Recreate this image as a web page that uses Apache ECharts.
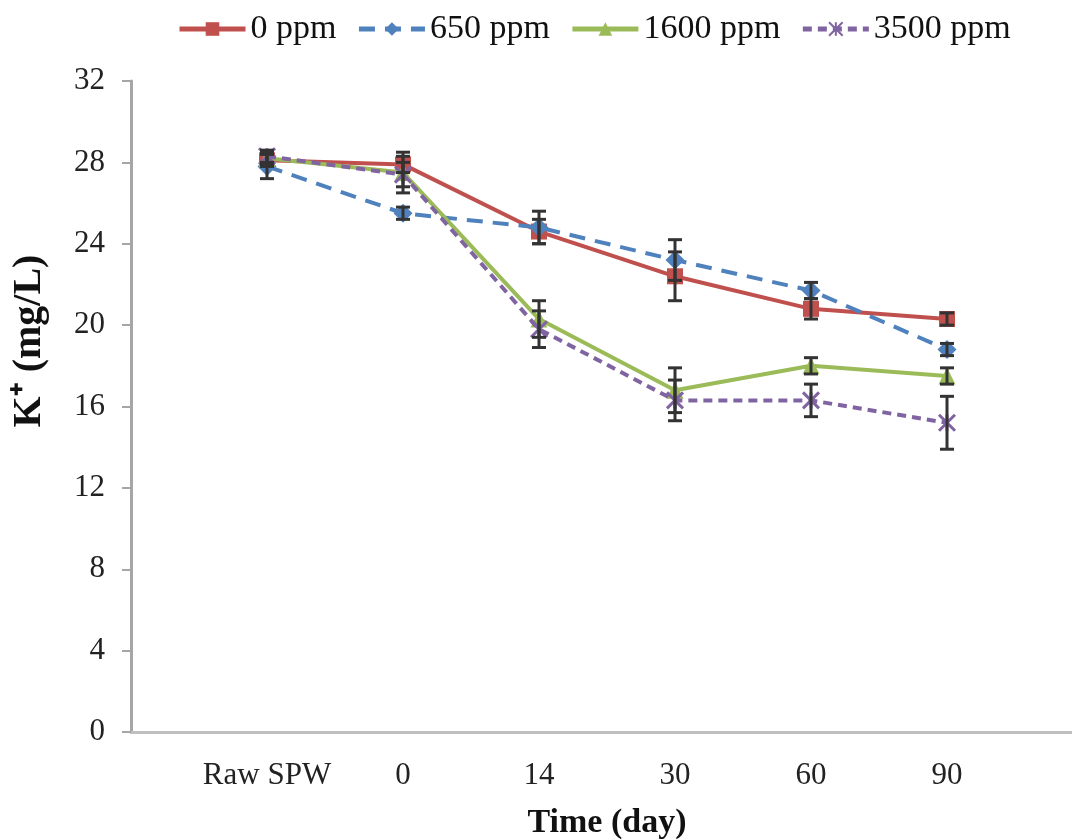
<!DOCTYPE html>
<html>
<head>
<meta charset="utf-8">
<script src="https://cdn.jsdelivr.net/npm/echarts@6/dist/echarts.min.js"></script>
<style>
html,body{margin:0;padding:0;background:#fff;}
#chart{width:1072px;height:840px;}
</style>
</head>
<body>
<div id="chart"></div>
<script>
// Categories (empty slots at both ends keep the axis spacing of the original)
const categories = ['', 'Raw SPW', '0', '14', '30', '60', '90', ''];
const timePoints = ['Raw SPW', '0', '14', '30', '60', '90'];
const yTicks = [0, 4, 8, 12, 16, 20, 24, 28, 32];

// Series values (K+ mg/L)
const ppm0    = [28.1, 27.9, 24.6, 22.4, 20.8, 20.3];
const ppm650  = [27.8, 25.5, 24.8, 23.2, 21.7, 18.8];
const ppm1600 = [28.2, 27.5, 20.3, 16.8, 18.0, 17.5];
const ppm3500 = [28.3, 27.4, 19.8, 16.3, 16.3, 15.2];

// Error (± SD)
const err0    = [0.3, 0.4, 0.6, 1.2, 0.5, 0.3];
const err650  = [0.6, 0.3, 0.8, 1.0, 0.4, 0.3];
const err1600 = [0.3, 1.0, 0.9, 1.1, 0.4, 0.4];
const err3500 = [0.3, 0.6, 0.9, 1.0, 0.8, 1.3];

const seriesNames = ['0 ppm', '650 ppm', '1600 ppm', '3500 ppm'];
const colors = ['#C0504D', '#4F81BD', '#9BBB59', '#8064A2'];

const FONT = "'Liberation Serif', 'Times New Roman', serif";

function lineData(vals) { return timePoints.map((t, i) => [t, vals[i]]); }
function errData(vals, errs) { return timePoints.map((t, i) => [t, vals[i] - errs[i], vals[i] + errs[i]]); }

const allErr = [].concat(
  errData(ppm0, err0), errData(ppm650, err650),
  errData(ppm1600, err1600), errData(ppm3500, err3500)
);

const chart = echarts.init(document.getElementById('chart'));
const option = {
  animation: false,
  backgroundColor: '#fff',
  legend: {
    top: 7,
    left: 172,
    itemWidth: 66,
    itemHeight: 17,
    itemGap: 20,
    data: seriesNames,
    lineStyle: { width: 5 },
    textStyle: { fontFamily: FONT, fontSize: 34, color: '#111' }
  },
  grid: { left: 131, right: -11, top: 81, bottom: 108, containLabel: false, outerBoundsMode: 'none' },
  xAxis: {
    type: 'category',
    data: categories,
    boundaryGap: false,
    axisLine: { show: true, lineStyle: { color: '#BFBFBF', width: 3 } },
    axisTick: { show: false },
    axisLabel: { interval: 0, margin: 28, fontFamily: FONT, fontSize: 31, color: '#222' },
    name: 'Time (day)',
    nameLocation: 'middle',
    nameGap: 74,
    nameTextStyle: { fontFamily: FONT, fontSize: 34, fontWeight: 'bold', color: '#111' },
    splitLine: { show: false }
  },
  yAxis: {
    type: 'value',
    min: yTicks[0],
    max: yTicks[yTicks.length - 1],
    interval: 4,
    axisLine: { show: true, lineStyle: { color: '#A6A6A6', width: 3 } },
    axisTick: { show: true, inside: false, length: 9, lineStyle: { color: '#A6A6A6', width: 2 } },
    axisLabel: { margin: 26, fontFamily: FONT, fontSize: 31, color: '#222' },
    splitLine: { show: false }
  },
  graphic: [{
    type: 'text',
    x: 30,
    y: 341,
    rotation: Math.PI / 2,
    style: {
      text: 'K⁺ (mg/L)',
      font: 'bold 40px ' + FONT,
      fill: '#111',
      textAlign: 'center',
      textVerticalAlign: 'middle'
    }
  }],
  series: [
    {
      name: seriesNames[0], type: 'line', data: lineData(ppm0),
      symbol: 'rect', symbolSize: 16,
      lineStyle: { color: colors[0], width: 4 },
      itemStyle: { color: colors[0] }, z: 2
    },
    {
      name: seriesNames[1], type: 'line', data: lineData(ppm650),
      symbol: 'diamond', symbolSize: 19,
      lineStyle: { color: colors[1], width: 4, type: [16, 10] },
      itemStyle: { color: colors[1] }, z: 3
    },
    {
      name: seriesNames[2], type: 'line', data: lineData(ppm1600),
      symbol: 'triangle', symbolSize: 17,
      lineStyle: { color: colors[2], width: 4 },
      itemStyle: { color: colors[2] }, z: 4
    },
    {
      name: seriesNames[3], type: 'line', data: lineData(ppm3500),
      symbol: 'path://M0,0L10,10M10,0L0,10M5,0L5,10', symbolSize: 16,
      lineStyle: { color: colors[3], width: 4, type: [9, 6] },
      itemStyle: { color: 'rgba(0,0,0,0)', borderColor: colors[3], borderWidth: 3 }, z: 5
    },
    {
      name: 'error', type: 'custom', data: allErr, z: 6,
      renderItem: function (params, api) {
        const x = api.value(0);
        const lo = api.coord([x, api.value(1)]);
        const hi = api.coord([x, api.value(2)]);
        const hw = 7;
        const st = { stroke: '#333333', lineWidth: 3, fill: null };
        return {
          type: 'group',
          children: [
            { type: 'line', shape: { x1: lo[0], y1: lo[1], x2: hi[0], y2: hi[1] }, style: st },
            { type: 'line', shape: { x1: lo[0] - hw, y1: lo[1], x2: lo[0] + hw, y2: lo[1] }, style: st },
            { type: 'line', shape: { x1: hi[0] - hw, y1: hi[1], x2: hi[0] + hw, y2: hi[1] }, style: st }
          ]
        };
      },
      encode: { x: 0, y: [1, 2] }
    }
  ]
};
chart.setOption(option);
</script>
</body>
</html>
